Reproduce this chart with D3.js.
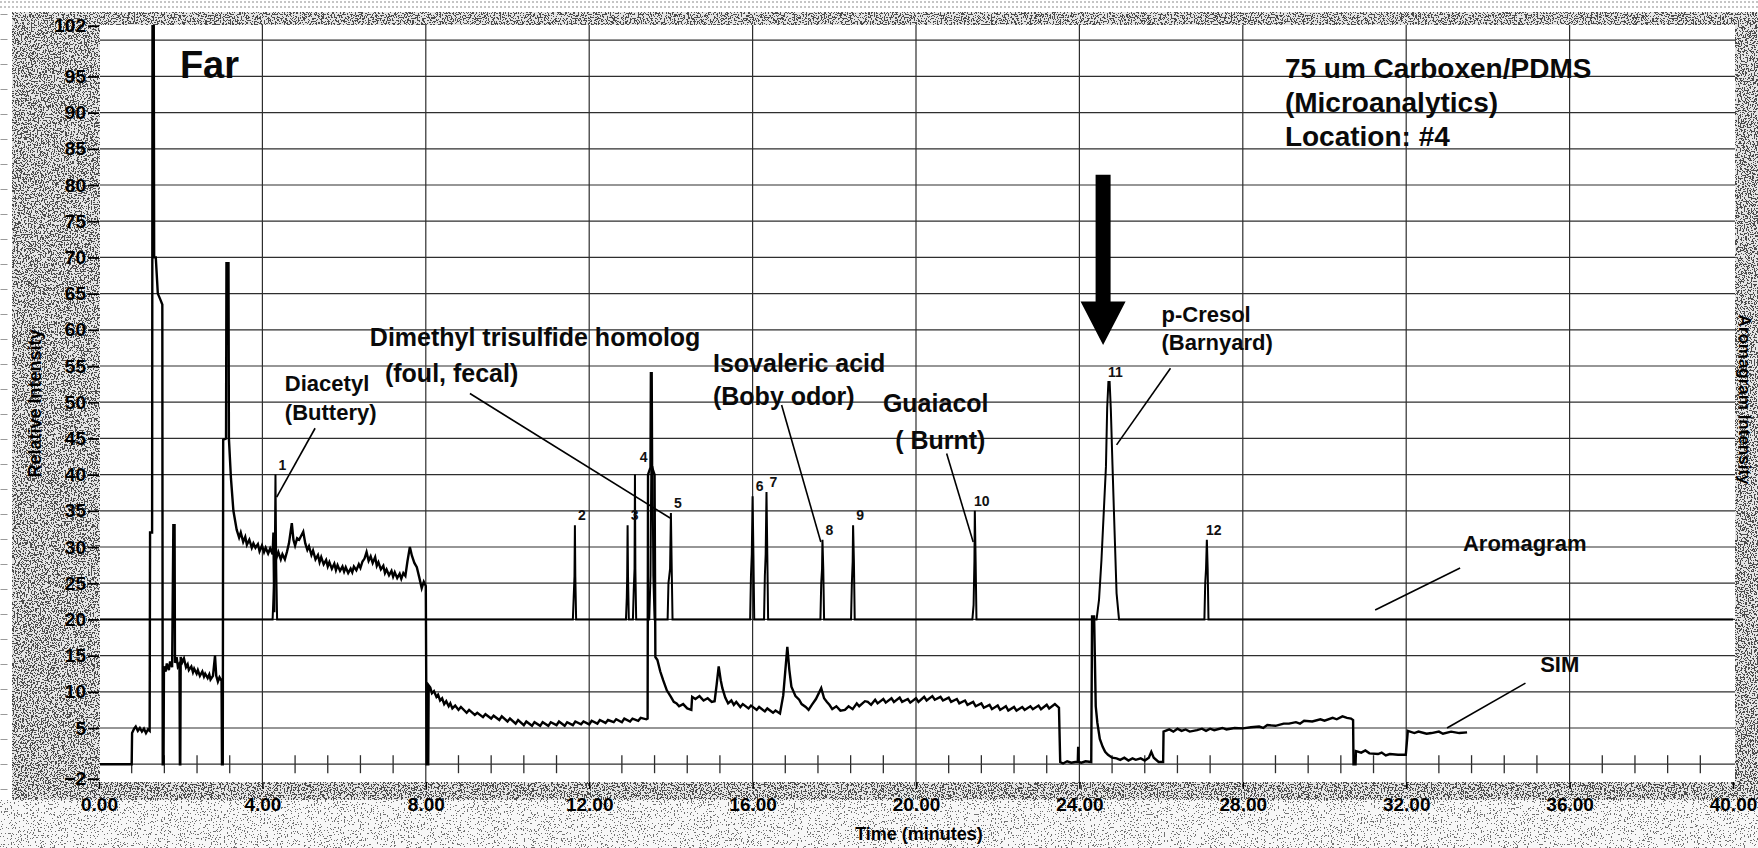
<!DOCTYPE html>
<html lang="en">
<head>
<meta charset="UTF-8">
<title>Far - Aromagram and SIM chromatogram</title>
<script src="https://d3js.org/d3.v7.min.js"></script>
<style>
  body { margin: 0; background: #fff; }
  svg { display: block; font-family: "Liberation Sans", Arial, sans-serif; }
</style>
</head>
<body>
<svg width="1758" height="848"></svg>
<script>
// ---- tick labels ----
const timeTicks = [0, 4, 8, 12, 16, 20, 24, 28, 32, 36, 40];
const intensityTicks = [-2, 5, 10, 15, 20, 25, 30, 35, 40, 45, 50, 55, 60, 65, 70, 75, 80, 85, 90, 95, 102];
const intensityGrid = [0, 5, 10, 15, 20, 25, 30, 35, 40, 45, 50, 55, 60, 65, 70, 75, 80, 85, 90, 95, 100];
const timeMinorStep = 0.8;

// ---- aromagram trace (baseline 20, one spike per odour event) ----
const aromagram = [
  [0, 20],
  [4.25, 20], [4.27, 23], [4.3, 27], [4.32, 40], [4.34, 27], [4.36, 20],
  [11.6, 20], [11.62, 23], [11.64, 26], [11.65, 33], [11.66, 26], [11.68, 20],
  [12.9, 20], [12.92, 23], [12.93, 26], [12.94, 33], [12.95, 26], [12.97, 20],
  [13.07, 20], [13.09, 24], [13.11, 27], [13.12, 40], [13.13, 27], [13.15, 20],
  [13.47, 20], [13.5, 26], [13.52, 41], [13.55, 41], [13.57, 26], [13.6, 20],
  [13.92, 20], [13.94, 25], [13.98, 27], [14.0, 34.7], [14.02, 27], [14.04, 20],
  [15.94, 20], [15.96, 26], [15.98, 29], [16.0, 37], [16.02, 29], [16.04, 20],
  [16.28, 20], [16.3, 26], [16.32, 29], [16.34, 37.6], [16.36, 29], [16.38, 20],
  [17.66, 20], [17.68, 25], [17.7, 27], [17.71, 31], [17.73, 27], [17.75, 20],
  [18.41, 20], [18.43, 25], [18.45, 28], [18.46, 33], [18.48, 28], [18.5, 20],
  [21.38, 20], [21.41, 22], [21.43, 28], [21.44, 35], [21.46, 28], [21.48, 20],
  [24.42, 20], [24.48, 22.7], [24.54, 28.2], [24.65, 41.1], [24.68, 49.2], [24.71, 52.8],
  [24.74, 52.8], [24.77, 48.9], [24.81, 41.3], [24.86, 32.3], [24.91, 23.6], [24.97, 20],
  [27.06, 20], [27.08, 25], [27.1, 27], [27.12, 31], [27.14, 27], [27.16, 20],
  [40, 20]
];

// ---- SIM trace ----
const simEarly = [
  [0, 0], [0.8, 0], [0.81, 4.3], [0.86, 4.9], [0.9, 5.2], [0.95, 4.6], [1.0, 5.0], [1.05, 4.5],
  [1.1, 4.9], [1.15, 4.3], [1.2, 4.8], [1.24, 4.6],
  [1.25, 32], [1.3, 32], [1.31, 104], [1.34, 104], [1.35, 70], [1.39, 70], [1.44, 65],
  [1.5, 64.2], [1.55, 63.5], [1.56, 0], [1.58, 0],
  [1.59, 13.5], [1.63, 12.8], [1.66, 13.9], [1.71, 13.0], [1.74, 14.2], [1.79, 13.4],
  [1.82, 33], [1.85, 33], [1.86, 14.0], [1.9, 14.8], [1.93, 13.5], [1.97, 13.9], [1.98, 0], [1.99, 0],
  [2.0, 14.8], [2.04, 14.1], [2.08, 14.6], [2.13, 13.4], [2.17, 13.8], [2.2, 13.0], [2.26, 13.5],
  [2.3, 12.7], [2.33, 13.2], [2.39, 12.5], [2.42, 13.0], [2.47, 12.2], [2.53, 12.8], [2.57, 12.1],
  [2.6, 12.5], [2.66, 11.9], [2.7, 12.4], [2.73, 11.7], [2.79, 12.2], [2.84, 15.0], [2.87, 12.2],
  [2.91, 11.4], [2.95, 12.0], [3.0, 11.5], [3.01, 0], [3.03, 0],
  [3.04, 44.8], [3.11, 45], [3.12, 69.2], [3.17, 69.2], [3.18, 45], [3.23, 39.5], [3.29, 35],
  [3.37, 32.4], [3.43, 31.3], [3.47, 32.0], [3.53, 30.7], [3.58, 31.4], [3.62, 30.3], [3.68, 31.0],
  [3.74, 29.9], [3.78, 30.5], [3.83, 29.9], [3.89, 30.4], [3.93, 29.4], [3.99, 30.2], [4.04, 29.3],
  [4.08, 29.9], [4.14, 29.1], [4.19, 29.8], [4.25, 29.0], [4.27, 32], [4.29, 21], [4.31, 29.5],
  [4.35, 28.6], [4.39, 29.3], [4.45, 28.3], [4.49, 29.0], [4.55, 28.3], [4.6, 29.3], [4.65, 30.5],
  [4.72, 33.3], [4.76, 31.0], [4.8, 30.2], [4.85, 31.2], [4.9, 31.0], [5.0, 32.1], [5.05, 30.5],
  [5.1, 29.6], [5.14, 30.1], [5.2, 28.9], [5.24, 29.5], [5.3, 28.3], [5.36, 28.9], [5.4, 27.9],
  [5.44, 28.6], [5.5, 27.6], [5.56, 28.2], [5.6, 27.3], [5.64, 27.9], [5.7, 27.0], [5.76, 27.7],
  [5.8, 26.8], [5.84, 27.5], [5.9, 26.7], [5.96, 27.3], [6.0, 26.6], [6.04, 27.2], [6.1, 26.4],
  [6.16, 27.0], [6.2, 26.5], [6.24, 27.3], [6.3, 26.8], [6.36, 27.6], [6.4, 27.1], [6.45, 28.0],
  [6.5, 28.4], [6.55, 29.3], [6.6, 28.1], [6.65, 28.7], [6.7, 27.8], [6.76, 28.6], [6.8, 27.4],
  [6.84, 27.9], [6.9, 26.9], [6.96, 27.4], [7.0, 26.4], [7.04, 26.9], [7.1, 26.1], [7.16, 26.7],
  [7.2, 25.9], [7.24, 26.5], [7.3, 25.7], [7.36, 26.3], [7.4, 25.6], [7.45, 26.4], [7.5, 26.0],
  [7.55, 28.0], [7.61, 30.0], [7.66, 28.8], [7.72, 27.8], [7.78, 27.2], [7.84, 25.8], [7.9, 24.3],
  [7.95, 25.2], [8.0, 24.6], [8.02, 0]
];

const simMiddle = [
  [8.06, 0], [8.07, 10.9], [8.11, 10.6], [8.15, 9.8], [8.2, 10.1], [8.26, 9.3], [8.3, 9.6],
  [8.35, 8.8], [8.4, 9.1], [8.45, 8.3], [8.5, 8.7], [8.56, 8.0], [8.6, 8.4], [8.65, 7.7], [8.72, 8.1],
  [8.8, 7.5], [8.86, 7.9], [9.0, 7.1], [9.06, 7.5], [9.2, 6.8], [9.26, 7.1], [9.4, 6.5], [9.46, 6.9],
  [9.6, 6.3], [9.66, 6.7], [9.8, 6.1], [9.86, 6.6], [10.0, 5.9], [10.06, 6.3], [10.2, 5.6], [10.26, 6.1],
  [10.4, 5.4], [10.46, 5.9], [10.6, 5.3], [10.66, 5.8], [10.8, 5.3], [10.86, 5.8], [11.0, 5.3],
  [11.06, 5.8], [11.2, 5.4], [11.26, 5.9], [11.4, 5.3], [11.46, 5.8], [11.6, 5.4], [11.66, 5.9],
  [11.8, 5.5], [11.86, 5.9], [12.0, 5.5], [12.06, 6.0], [12.2, 5.6], [12.26, 6.1], [12.4, 5.7],
  [12.46, 6.1], [12.6, 5.8], [12.66, 6.2], [12.8, 5.8], [12.86, 6.3], [13.0, 5.9], [13.06, 6.3],
  [13.2, 6.0], [13.26, 6.4], [13.4, 6.2], [13.43, 6.3],
  [13.44, 40], [13.5, 41], [13.51, 54], [13.53, 54], [13.54, 41], [13.6, 40], [13.62, 14.8],
  [13.67, 14.4], [13.74, 12.8], [13.81, 11.6], [13.9, 10.2],
  [14.0, 9.3], [14.07, 8.6], [14.14, 8.4], [14.2, 8.0], [14.3, 8.3], [14.4, 7.7], [14.5, 7.5],
  [14.52, 9.3], [14.6, 9.0], [14.7, 9.4], [14.8, 8.8], [14.9, 9.1], [15.0, 8.6], [15.07, 8.7],
  [15.12, 11], [15.17, 13.5], [15.22, 11.6], [15.26, 10.5], [15.33, 9.2], [15.4, 8.4], [15.48, 8.8],
  [15.54, 8.2], [15.6, 8.6], [15.7, 7.9], [15.76, 8.3], [15.9, 7.7], [15.96, 8.1], [16.1, 7.5],
  [16.16, 7.9], [16.3, 7.3], [16.36, 7.7], [16.5, 7.1], [16.56, 7.4], [16.67, 7.0], [16.75, 9.5],
  [16.85, 16.2], [16.9, 13], [16.95, 10.7], [17.05, 9.4], [17.14, 8.9], [17.2, 8.3], [17.3, 7.9],
  [17.37, 7.5], [17.45, 8.2], [17.55, 9.0], [17.68, 10.5], [17.75, 9.1], [17.82, 8.6], [17.88, 8.2],
  [17.95, 7.6], [18.05, 8.0], [18.15, 7.4], [18.26, 7.5], [18.35, 8.0], [18.45, 7.6], [18.55, 8.4],
  [18.61, 8.0], [18.75, 8.7], [18.82, 8.6], [18.9, 8.2], [19.0, 8.9], [19.06, 8.4], [19.2, 9.0],
  [19.26, 8.5], [19.4, 9.1], [19.46, 8.6], [19.6, 9.2], [19.66, 8.6], [19.8, 9.0], [19.86, 8.5],
  [20.0, 9.1], [20.06, 8.6], [20.2, 9.3], [20.26, 8.8], [20.4, 9.4], [20.46, 8.9], [20.6, 9.3],
  [20.66, 8.8], [20.8, 9.2], [20.86, 8.6], [21.0, 9.0], [21.06, 8.4], [21.2, 8.8], [21.26, 8.2],
  [21.4, 8.6], [21.46, 8.0], [21.6, 8.4], [21.66, 7.8], [21.8, 8.2], [21.86, 7.6], [22.0, 8.1],
  [22.06, 7.5], [22.2, 8.0], [22.26, 7.4], [22.4, 7.9], [22.46, 7.4], [22.6, 7.9], [22.66, 7.5],
  [22.8, 8.0], [22.86, 7.6], [23.0, 8.1], [23.06, 7.6], [23.2, 8.2], [23.26, 7.7], [23.4, 8.3],
  [23.5, 7.8], [23.53, 0.3]
];

const simLate = [
  [23.6, 0.1], [23.7, 0.4], [23.8, 0.2], [23.9, 0.3], [23.96, 0.3], [23.97, 2.4], [23.98, 0.3],
  [24.05, 0.2], [24.15, 0.4], [24.29, 0.3], [24.31, 20.4], [24.36, 20.4], [24.4, 8], [24.44, 5.7],
  [24.5, 3.5], [24.57, 2.4], [24.63, 1.7], [24.7, 1.3], [24.8, 0.9], [24.91, 0.8], [25.0, 0.6],
  [25.1, 0.9], [25.2, 0.5], [25.3, 0.8], [25.38, 0.6], [25.5, 0.8], [25.6, 0.5], [25.7, 0.9],
  [25.76, 1.7], [25.82, 0.9], [25.94, 0.3], [26.05, 0.3], [26.06, 4.5], [26.2, 4.8], [26.3, 4.5],
  [26.4, 4.9], [26.5, 4.6], [26.6, 4.8], [26.7, 4.5], [26.88, 4.7], [27.0, 4.9], [27.1, 4.6],
  [27.2, 4.9], [27.3, 4.7], [27.5, 5.0], [27.6, 4.8], [27.8, 5.0], [28.0, 4.95], [28.2, 5.1],
  [28.4, 5.2], [28.5, 5.0], [28.6, 5.4], [28.8, 5.3], [29.0, 5.6], [29.13, 5.6], [29.3, 5.8],
  [29.4, 5.6], [29.5, 6.0], [29.7, 5.9], [29.9, 6.2], [30.0, 6.0], [30.2, 6.4], [30.3, 6.2],
  [30.44, 6.6], [30.55, 6.4], [30.65, 6.3], [30.7, 6.1], [30.71, 0], [30.76, 0], [30.77, 1.8],
  [30.9, 1.6], [31.0, 1.9], [31.1, 1.5], [31.31, 1.4], [31.4, 1.6], [31.5, 1.2], [31.6, 1.4],
  [31.8, 1.3], [31.99, 1.3], [32.04, 4.6], [32.2, 4.3], [32.3, 4.5], [32.5, 4.2], [32.62, 4.3],
  [32.8, 4.5], [32.9, 4.2], [33.1, 4.5], [33.3, 4.3], [33.49, 4.4]
];

// ---- numbered aromagram peaks ----
const peakNames = ["1", "2", "3", "4", "5", "6", "7", "8", "9", "10", "11", "12"];
const peakTimes = [4.32, 11.65, 12.94, 13.53, 14.0, 16.0, 16.34, 17.71, 18.46, 21.44, 24.71, 27.12];
const peakHeights = [40, 33, 33, 41, 34.7, 37, 37.6, 31, 33, 35, 52.8, 31];

// ---- compound call-outs (anchor in minutes / intensity) ----
const noteLines = [
  { text: "Diacetyl", t: 4.55, v: 51.6, size: 22 },
  { text: "(Buttery)", t: 4.55, v: 47.5, size: 22 },
  { text: "Dimethyl trisulfide homolog", t: 6.63, v: 57.7, size: 25 },
  { text: "(foul, fecal)", t: 7.0, v: 52.8, size: 25 },
  { text: "Isovaleric acid", t: 15.03, v: 54.2, size: 25 },
  { text: "(Boby odor)", t: 15.03, v: 49.6, size: 25 },
  { text: "Guaiacol", t: 19.19, v: 48.7, size: 25 },
  { text: "( Burnt)", t: 19.49, v: 43.6, size: 25 },
  { text: "p-Cresol", t: 26.01, v: 61.1, size: 22 },
  { text: "(Barnyard)", t: 26.01, v: 57.2, size: 22 },
  { text: "Aromagram", t: 33.39, v: 29.5, size: 22 },
  { text: "SIM", t: 35.28, v: 12.8, size: 22 }
];
const leaders = [
  [[5.29, 46.4], [4.35, 36.9]],
  [[9.08, 51.2], [13.98, 34.0]],
  [[16.71, 49.6], [17.67, 30.7]],
  [[20.75, 42.9], [21.4, 30.7]],
  [[26.23, 54.7], [24.91, 44.1]],
  [[33.32, 27.1], [31.24, 21.3]],
  [[34.92, 11.2], [33.0, 5.0]]
];
const sampleInfo = ["75 um Carboxen/PDMS", "(Microanalytics)", "Location: #4"];
const sampleTitle = "Far";
const arrowAt = { t: 24.58, top: 81.4, neck: 63.9, tip: 57.9 };

// ---- layout ----
const W = 1758, H = 848;
const plot = { left: 100, top: 25, right: 1735, bottom: 782 };
const x = d3.scaleLinear().domain([0, 40]).range([99, 1733]);
const y = d3.scaleLinear().domain([-2.46, 102.1]).range([782, 25]);

const svg = d3.select("svg");
const defs = svg.append("defs");

// speckled scan texture
function speckle(id, threshold, dark, light, seed) {
  const n = 100, k = Math.round(n * threshold);
  const table = d3.range(n).map(i => (i < k ? dark : light)).join(" ");
  const f = defs.append("filter").attr("id", id)
    .attr("x", 0).attr("y", 0).attr("width", 1).attr("height", 1)
    .attr("color-interpolation-filters", "sRGB");
  f.append("feTurbulence").attr("type", "fractalNoise")
    .attr("baseFrequency", 0.7).attr("numOctaves", 2).attr("seed", seed);
  f.append("feColorMatrix").attr("type", "matrix")
    .attr("values", "1 0 0 0 0  1 0 0 0 0  1 0 0 0 0  0 0 0 0 1");
  const ct = f.append("feComponentTransfer");
  ["feFuncR", "feFuncG", "feFuncB"].forEach(fn =>
    ct.append(fn).attr("type", "discrete").attr("tableValues", table));
}
speckle("spkDark", 0.46, 0.3, 0.9, 3);
speckle("spkLight", 0.36, 0.45, 0.97, 9);

defs.append("clipPath").attr("id", "plotClip")
  .append("rect")
  .attr("x", plot.left).attr("y", plot.top)
  .attr("width", plot.right - plot.left).attr("height", plot.bottom - plot.top);

svg.append("rect").attr("width", W).attr("height", H).attr("fill", "#fff");

// page-edge scan residue
[2, 7].forEach(yy => svg.append("line")
  .attr("x1", 0).attr("x2", W).attr("y1", yy).attr("y2", yy)
  .attr("stroke", "#8a8a8a").attr("stroke-width", 1).attr("stroke-dasharray", "2,2"));
svg.append("line").attr("x1", 4).attr("x2", 4).attr("y1", 14).attr("y2", H)
  .attr("stroke", "#9a9a9a").attr("stroke-width", 7).attr("stroke-dasharray", "1,24");

svg.append("rect").attr("x", 12).attr("y", 12).attr("width", W - 12).attr("height", H - 12)
  .attr("filter", "url(#spkDark)");
svg.append("rect").attr("x", 0).attr("y", 800).attr("width", W).attr("height", H - 800)
  .attr("filter", "url(#spkLight)");

svg.append("rect")
  .attr("x", plot.left).attr("y", plot.top)
  .attr("width", plot.right - plot.left).attr("height", plot.bottom - plot.top)
  .attr("fill", "#fff");

// ---- grid ----
const grid = svg.append("g").attr("stroke", "#2e2e2e").attr("stroke-width", 1.2);
grid.selectAll("line.h").data(intensityGrid).join("line")
  .attr("x1", plot.left).attr("x2", plot.right)
  .attr("y1", d => y(d)).attr("y2", d => y(d));
grid.selectAll("line.v").data(timeTicks.filter(t => t > 0 && t < 40)).join("line")
  .attr("y1", plot.top).attr("y2", plot.bottom)
  .attr("x1", d => x(d)).attr("x2", d => x(d));

// minor time ticks along the zero line
const minorTimes = d3.range(1, 50).map(i => i * timeMinorStep).filter(t => Math.abs(t / 4 - Math.round(t / 4)) > 1e-6);
grid.selectAll("line.m").data(minorTimes).join("line")
  .attr("x1", d => x(d)).attr("x2", d => x(d))
  .attr("y1", y(0) - 9).attr("y2", y(0) + 9)
  .attr("stroke-width", 1.3);

// ---- axes ----
const yAxis = svg.append("g")
  .attr("transform", `translate(${x(0)},0)`)
  .call(d3.axisLeft(y).tickValues(intensityTicks).tickSize(11).tickPadding(2).tickFormat(d3.format("d")));
yAxis.select(".domain").remove();
yAxis.selectAll("line").attr("stroke", "#000").attr("stroke-width", 1.8);
yAxis.selectAll("text").attr("font-size", 19).attr("font-weight", "bold").attr("fill", "#000")
  .attr("font-family", "'Liberation Sans', Arial, sans-serif");

const xAxis = svg.append("g")
  .attr("transform", `translate(0,${plot.bottom})`)
  .call(d3.axisBottom(x).tickValues(timeTicks).tickSize(7).tickPadding(9).tickFormat(d3.format(".2f")));
xAxis.select(".domain").remove();
xAxis.selectAll("line").attr("stroke", "#000").attr("stroke-width", 1.5);
xAxis.selectAll("text").attr("font-size", 19).attr("font-weight", "bold").attr("fill", "#000")
  .attr("font-family", "'Liberation Sans', Arial, sans-serif");

svg.append("text")
  .attr("x", 919).attr("y", 840).attr("text-anchor", "middle")
  .attr("font-size", 18).attr("font-weight", "bold").attr("fill", "#000").text("Time (minutes)");
svg.append("text")
  .attr("transform", `translate(41,${(plot.top + plot.bottom) / 2}) rotate(-90)`)
  .attr("text-anchor", "middle").attr("font-size", 18).attr("font-weight", "bold").attr("fill", "#000")
  .text("Relative Intensity");
svg.append("text")
  .attr("transform", `translate(1739,${(plot.top + plot.bottom) / 2 - 4}) rotate(90)`)
  .attr("text-anchor", "middle").attr("font-size", 17).attr("font-weight", "bold").attr("fill", "#000")
  .text("Aromagram Intensity");

// ---- traces ----
const line = d3.line().x(d => x(d[0])).y(d => y(d[1]));
const traces = svg.append("g").attr("clip-path", "url(#plotClip)")
  .attr("fill", "none").attr("stroke", "#000").attr("stroke-linejoin", "miter");
traces.append("path").datum(aromagram).attr("d", line).attr("stroke-width", 2);
traces.append("path").datum(simEarly.concat(simMiddle, simLate)).attr("d", line).attr("stroke-width", 2.4);

// ---- peak numbers ----
const peaks = peakNames.map((name, i) => ({ name, t: peakTimes[i], h: peakHeights[i] }));
svg.append("g").selectAll("text").data(peaks).join("text")
  .attr("x", d => x(d.t) + (d.name === "4" ? -8 : 7))
  .attr("y", d => y(d.h) - 5)
  .attr("text-anchor", "middle").attr("font-size", 14).attr("font-weight", "bold")
  .attr("fill", "#111").text(d => d.name);

// ---- call-outs ----
svg.append("g").selectAll("text").data(noteLines).join("text")
  .attr("x", d => x(d.t)).attr("y", d => y(d.v))
  .attr("font-size", d => d.size).attr("font-weight", "bold").attr("fill", "#0a0a0a")
  .text(d => d.text);
svg.append("g").attr("stroke", "#000").attr("stroke-width", 1.6)
  .selectAll("line").data(leaders).join("line")
  .attr("x1", d => x(d[0][0])).attr("y1", d => y(d[0][1]))
  .attr("x2", d => x(d[1][0])).attr("y2", d => y(d[1][1]));

svg.append("text")
  .attr("x", x(1.98)).attr("y", y(94.8))
  .attr("font-size", 38).attr("font-weight", "bold").attr("fill", "#0a0a0a")
  .text(sampleTitle);
svg.append("g").selectAll("text").data(sampleInfo).join("text")
  .attr("x", x(29.03)).attr("y", (d, i) => y(94.8) + i * 34)
  .attr("font-size", 28).attr("font-weight", "bold").attr("fill", "#0a0a0a")
  .text(d => d);

// ---- arrow pointing at the p-cresol peak ----
const ax = x(arrowAt.t);
const arrowPts = [
  [ax - 7.5, y(arrowAt.top)], [ax + 7.5, y(arrowAt.top)], [ax + 7.5, y(arrowAt.neck)],
  [ax + 22.5, y(arrowAt.neck)], [ax, y(arrowAt.tip)], [ax - 22.5, y(arrowAt.neck)],
  [ax - 7.5, y(arrowAt.neck)]
];
svg.append("path").attr("d", "M" + arrowPts.join("L") + "Z").attr("fill", "#000");
</script>
</body>
</html>
